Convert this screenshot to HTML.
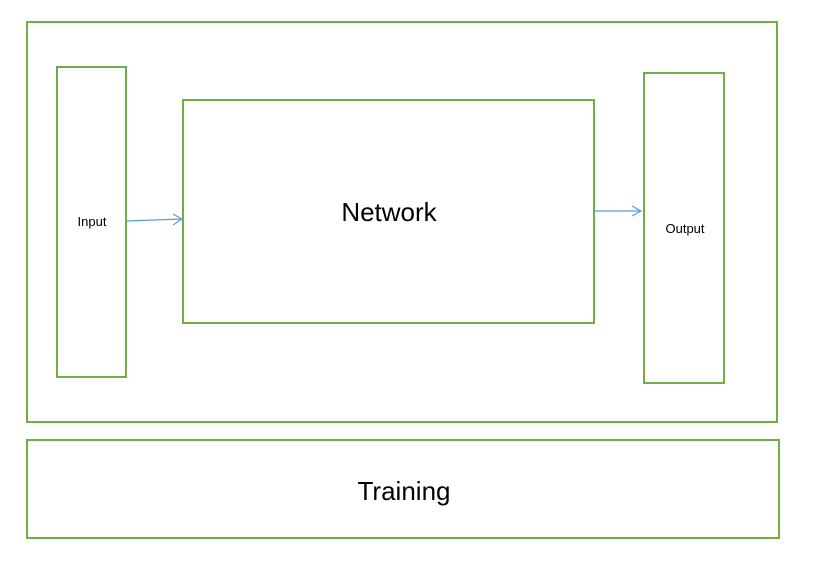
<!DOCTYPE html>
<html><head><style>
body{margin:0;width:814px;height:561px;background:#fff;overflow:hidden}
</style></head><body>
<svg width="814" height="561" xmlns="http://www.w3.org/2000/svg" font-family="Liberation Sans, sans-serif">
<g fill="none" stroke="#70ad47" stroke-width="2">
<rect x="27" y="22" width="750" height="400"/>
<rect x="57" y="67" width="69" height="310"/>
<rect x="183" y="100" width="411" height="223"/>
<rect x="644" y="73" width="80" height="310"/>
<rect x="27" y="440" width="752" height="98"/>
</g>
<g stroke="#5b9bd5" stroke-width="1.2" fill="none">
<line x1="127" y1="221" x2="182" y2="219"/>
<polyline points="173,214 182,219 173,225"/>
<line x1="595" y1="211" x2="641" y2="211"/>
<polyline points="632,206 641,211 632,216"/>
</g>
<g fill="#000">
<text x="92" y="226" font-size="13" text-anchor="middle">Input</text>
<text x="389" y="221" font-size="26" text-anchor="middle">Network</text>
<text x="685" y="233" font-size="13" text-anchor="middle">Output</text>
<text x="404" y="500" font-size="26" text-anchor="middle">Training</text>
</g>
</svg>
</body></html>
